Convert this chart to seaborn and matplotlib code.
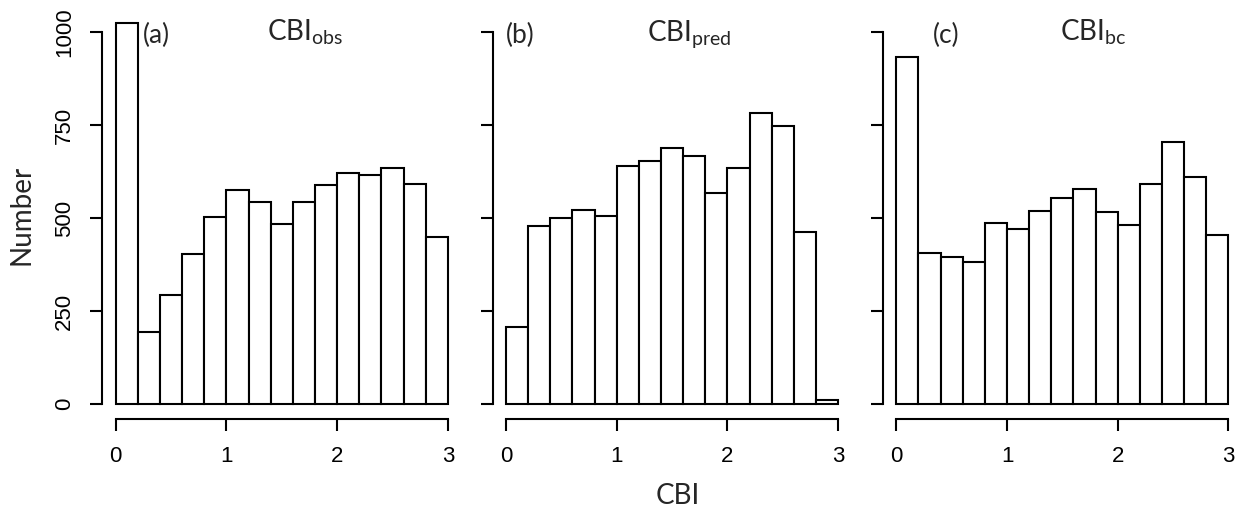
import numpy as np
import pandas as pd
import matplotlib
matplotlib.use("Agg")
import matplotlib.pyplot as plt
import seaborn as sns

sns.set_style("ticks")
plt.rcParams["font.family"] = ["Liberation Sans", "DejaVu Sans"]
plt.rcParams["mathtext.fontset"] = "custom"
plt.rcParams["mathtext.rm"] = "Lato"
plt.rcParams["mathtext.it"] = "Lato:italic"

# histogram bins (CBI) and counts
bin_edges = [0.0, 0.2, 0.4, 0.6, 0.8, 1.0, 1.2, 1.4, 1.6, 1.8, 2.0, 2.2, 2.4, 2.6, 2.8, 3.0]
cbi_obs = [1026, 194, 293, 403, 504, 575, 544, 485, 544, 590, 622, 617, 636, 592, 448]
cbi_pred = [208, 480, 501, 523, 506, 639, 654, 688, 668, 568, 636, 783, 748, 463, 11]
cbi_bc = [934, 405, 395, 381, 486, 472, 519, 554, 578, 517, 482, 592, 704, 610, 455]

y_ticks = [0, 250, 500, 750, 1000]
x_ticks = [0, 1, 2, 3]

panels = [
    ("(a)", r"$\mathrm{CBI}_{\mathrm{obs}}$", cbi_obs, 0.25, 1.365),
    ("(b)", r"$\mathrm{CBI}_{\mathrm{pred}}$", cbi_pred, 0.0, 1.27),
    ("(c)", r"$\mathrm{CBI}_{\mathrm{bc}}$", cbi_bc, 0.33, 1.48),
]
lefts = [0.0821, 0.3951, 0.7081]

edges = np.array(bin_edges)
centers = (edges[:-1] + edges[1:]) / 2

fig = plt.figure(figsize=(12.47, 5.14), dpi=100)
lw = 1.5
for i, (tag, title, counts, tag_x, title_x) in enumerate(panels):
    ax = fig.add_axes([lefts[i], 0.185, 0.2877, 0.7811])
    df = pd.DataFrame({"CBI": centers, "Number": counts})
    sns.histplot(data=df, x="CBI", weights="Number", bins=bin_edges, ax=ax,
                 color="white", edgecolor="black", linewidth=lw, alpha=1)
    ax.set_xlim(-0.12, 3.12)
    ax.set_ylim(-40, 1040)
    ax.set_xlabel("")
    ax.set_ylabel("")
    ax.set_xticks(x_ticks)
    ax.set_yticks(y_ticks)
    ax.spines["top"].set_visible(False)
    ax.spines["right"].set_visible(False)
    ax.spines["left"].set_bounds(0, 1000)
    ax.spines["bottom"].set_bounds(0, 3)
    for s in ("left", "bottom"):
        ax.spines[s].set_linewidth(lw)
        ax.spines[s].set_color("black")
    ax.tick_params(axis="both", direction="out", length=8.8, width=lw,
                   labelsize=16, colors="black", pad=11)
    if i == 0:
        ax.set_yticklabels([str(t) for t in y_ticks], rotation=90, va="center")
    else:
        ax.set_yticklabels([])
    ax.text(tag_x, 992, tag, ha="left", va="center", fontsize=19,
            family=["Lato", "DejaVu Sans"])
    ax.text(title_x, 979, title, ha="left", va="baseline", fontsize=20)

fig.text(21.7 / 1247, 1 - 215 / 514, "Number", rotation=90, ha="center",
         va="center", fontsize=20, family=["Lato", "DejaVu Sans"])
fig.text(678 / 1247, 1 - 496 / 514, "CBI", ha="center", va="center",
         fontsize=20, family=["Lato", "DejaVu Sans"])

fig.savefig("out.png", dpi=100, facecolor="white")
